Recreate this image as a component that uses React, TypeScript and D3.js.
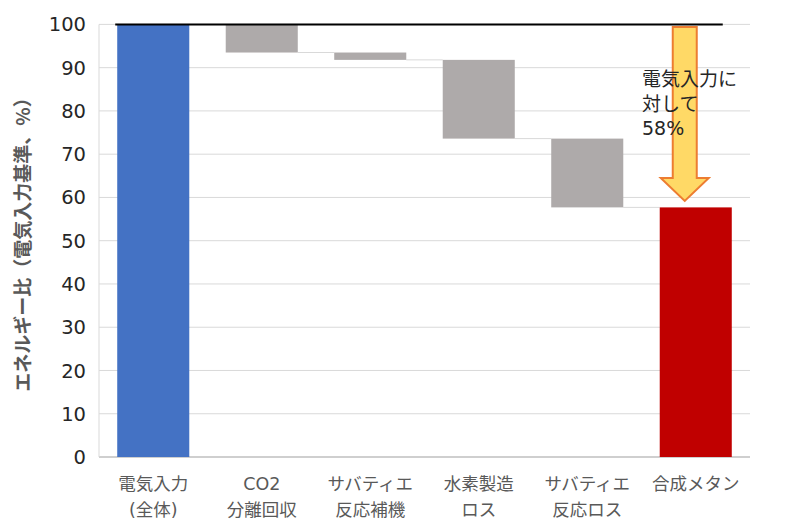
import React from 'react';
import * as d3 from 'd3';

const categories = ['電気入力\n(全体)', 'CO2\n分離回収', 'サバティエ\n反応補機', '水素製造\nロス', 'サバティエ\n反応ロス', '合成メタン'];
// 各バーの上端・下端（%）
const barTops = [100, 100, 93.5, 91.8, 73.6, 57.7];
const barBottoms = [0, 93.5, 91.8, 73.6, 57.7, 0];
const barKinds = ['input', 'loss', 'loss', 'loss', 'loss', 'output'];
const yTicks = [0, 10, 20, 30, 40, 50, 60, 70, 80, 90, 100];
const annotationLines = ['電気入力に', '対して', '58%'];

const colors: Record<string, string> = {
  input: '#4472C4',
  loss: '#AEAAAA',
  output: '#C00000',
};

const FONT = '"DejaVu Sans", "Noto Sans CJK JP", sans-serif';
const CJK = '"Noto Sans CJK JP", sans-serif';

export default function App() {
  const width = 800;
  const height = 529;
  const margin = { top: 24.4, right: 50, bottom: 72, left: 99 };

  const x = d3.scaleBand<string>()
    .domain(categories)
    .range([margin.left, width - margin.right])
    .paddingInner(0.336)
    .paddingOuter(0.168);

  const y = d3.scaleLinear()
    .domain([0, 100])
    .range([height - margin.bottom, margin.top]);

  const bw = x.bandwidth();

  // 矢印（電気入力 → 合成メタン）
  const ax = (x(categories[5]) as number) + bw / 2 - 11;
  const arrowTop = y(99.4);
  const arrowTip = y(59.2);
  const headH = 23;
  const shaftW = 12;
  const headW = 24;
  const arrowPath = [
    [ax - shaftW, arrowTop],
    [ax + shaftW, arrowTop],
    [ax + shaftW, arrowTip - headH],
    [ax + headW, arrowTip - headH],
    [ax, arrowTip],
    [ax - headW, arrowTip - headH],
    [ax - shaftW, arrowTip - headH],
  ].map((p) => p.join(',')).join(' ');

  return (
    <svg width={width} height={height} style={{ position: 'absolute', left: 0, top: 0, background: '#fff' }} fontFamily={FONT}>
      {/* グリッド */}
      {yTicks.map((t) => (
        <line key={t} x1={margin.left} x2={width - margin.right} y1={y(t)} y2={y(t)}
          stroke={t === 0 ? '#BFBFBF' : '#D9D9D9'} strokeWidth={t === 0 ? 1.5 : 1} />
      ))}
      <line x1={margin.left} x2={margin.left} y1={y(100)} y2={y(0)} stroke="#D9D9D9" strokeWidth={1} />

      {/* 目盛りラベル */}
      {yTicks.map((t) => (
        <text key={t} x={margin.left - 13} y={y(t)} dy="0.36em" textAnchor="end" fontSize={19.5} fill="#262626">{t}</text>
      ))}

      {/* 軸タイトル */}
      <text transform={`translate(30,240) rotate(-90)`} textAnchor="middle" fontSize={19} fontWeight="bold" fill="#595959" fontFamily={CJK}>
        エネルギー比（電気入力基準、%）
      </text>

      {/* 連結線 */}
      {categories.slice(1, 5).map((c, i) => (
        <line key={c} x1={(x(categories[i + 1]) as number) + bw} x2={x(categories[i + 2]) as number}
          y1={y(barBottoms[i + 1])} y2={y(barBottoms[i + 1])} stroke="#D9D9D9" strokeWidth={1} />
      ))}

      {/* バー */}
      {categories.map((c, i) => (
        <rect key={c} x={x(c)} y={y(barTops[i])} width={bw} height={y(barBottoms[i]) - y(barTops[i])}
          fill={colors[barKinds[i]]} />
      ))}

      {/* 100%ライン */}
      <line x1={(x(categories[0]) as number) - 2} x2={ax + 38} y1={y(100)} y2={y(100)} stroke="#000" strokeWidth={2} />

      {/* カテゴリラベル */}
      {categories.map((c) => (
        <text key={c} x={(x(c) as number) + bw / 2} y={490} textAnchor="middle" fontSize={17.5} fill="#595959">
          {c.split('\n').map((line, j) => (
            <tspan key={j} x={(x(c) as number) + bw / 2} dy={j === 0 ? 0 : 26}>{line}</tspan>
          ))}
        </text>
      ))}

      {/* 矢印 */}
      <polygon points={arrowPath} fill="#FFD966" stroke="#ED7D31" strokeWidth={2} strokeLinejoin="miter" />

      {/* 注記 */}
      <text x={642} y={86} fontSize={19} fill="#262626">
        {annotationLines.map((line, j) => (
          <tspan key={j} x={642} dy={j === 0 ? 0 : 24.5}>{line}</tspan>
        ))}
      </text>
    </svg>
  );
}
